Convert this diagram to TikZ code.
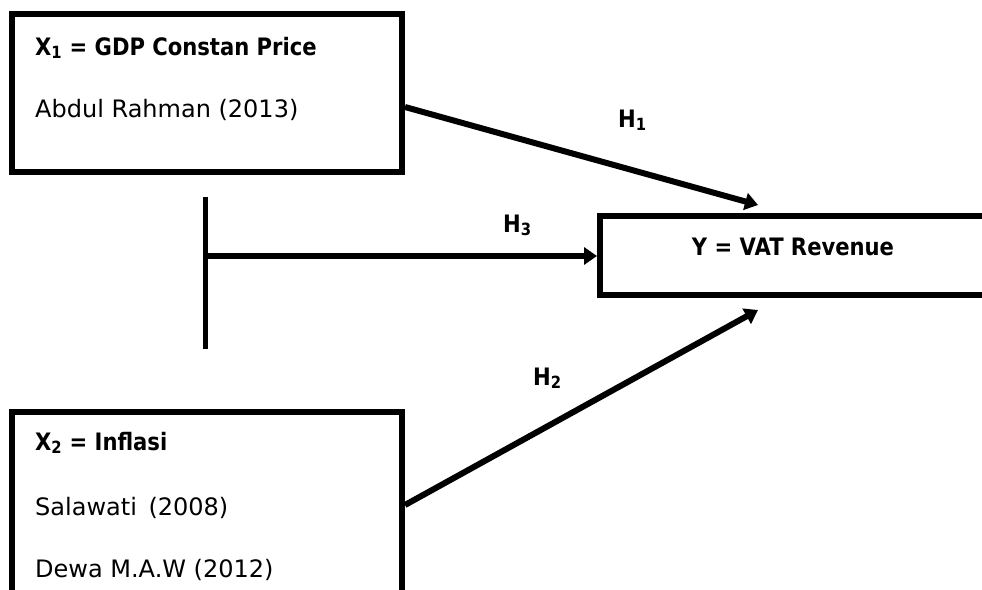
\documentclass[tikz,border=0pt]{standalone}
\usepackage{fontspec}
\setmainfont{DejaVu Sans}[BoldFeatures={FakeStretch=0.88}]
\usetikzlibrary{arrows.meta}
\begin{document}
\begin{tikzpicture}[x=1pt,y=-1pt,
  box/.style={draw,line width=6pt,rectangle,inner sep=0pt},
  txt/.style={anchor=base west,inner sep=0pt,font=\fontsize{24}{28}\selectfont},
  btxt/.style={txt,font=\fontsize{24}{28}\selectfont\bfseries},
  conn/.style={line width=6pt,-{Triangle[length=13pt,width=17pt]}},
  bar/.style={line width=5pt}]
\useasboundingbox (0,0) rectangle (982,589);
\clip (0,0) rectangle (982,589);
% boxes
\node[box,minimum width=390pt,minimum height=158.5pt] (x1) at (207,92.75) {};
\node[box,minimum width=390pt,minimum height=220pt] (x2) at (207,522) {};
\node[box,minimum width=410pt,minimum height=79pt] (y) at (805,255.5) {};
% texts
\node[btxt] (t1) at (35,55) {X\textsubscript{1} = GDP Constan Price};
\node[txt] (t2) at (35,117) {Abdul Rahman (2013)};
\node[btxt] (t3) at (35,450) {X\textsubscript{2} = Inflasi};
\node[txt] (t4) at (35,515) {Salawati\, (2008)};
\node[txt] (t5) at (35,577) {Dewa M.A.W (2012)};
\node[btxt,anchor=base] (ty) at (793,255) {Y = VAT Revenue};
\node[btxt] (h1) at (618,127) {H\textsubscript{1}};
\node[btxt] (h3) at (503,232) {H\textsubscript{3}};
\node[btxt] (h2) at (533,385) {H\textsubscript{2}};
% connectors
\coordinate (a1s) at (405,107);
\coordinate (a1e) at (758,205);
\coordinate (a2s) at (405,505);
\coordinate (a2e) at (758,310);
\coordinate (bt) at (205,197);
\coordinate (bb) at (205,349);
\coordinate (bm) at (205,256);
\draw[conn] (a1s) -- (a1e);
\draw[conn] (a2s) -- (a2e);
\draw[bar] (bt) -- (bb);
\draw[conn] (bm) -- (y.west |- bm);
\end{tikzpicture}
\end{document}
